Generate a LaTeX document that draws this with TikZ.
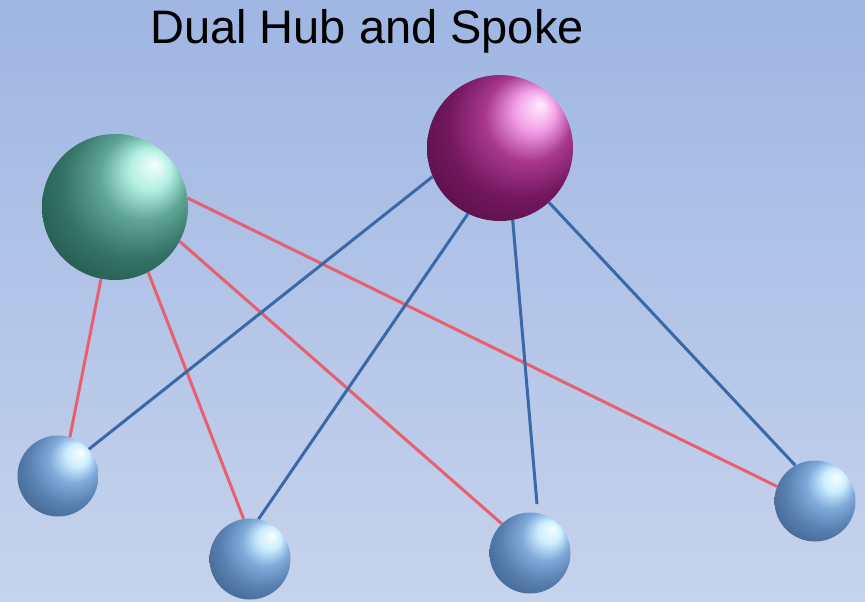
\documentclass[tikz,border=0pt]{standalone}
\usepackage{fontspec}
\setmainfont{Liberation Sans}
\usetikzlibrary{backgrounds}

% palette
\definecolor{bgtop}{HTML}{9FB6E3}
\definecolor{bgbottom}{HTML}{C6D3EC}
\definecolor{redspoke}{HTML}{E8606E}
\definecolor{bluespoke}{HTML}{3A68A8}

\definecolor{tealA}{HTML}{F4FFFD}
\definecolor{tealB}{HTML}{B4F0E2}
\definecolor{tealC}{HTML}{5FA596}
\definecolor{tealD}{HTML}{347366}
\definecolor{tealE}{HTML}{214F47}
\definecolor{tealF}{HTML}{122C28}

\definecolor{magA}{HTML}{FFF0FF}
\definecolor{magB}{HTML}{F2A0E6}
\definecolor{magC}{HTML}{A8388C}
\definecolor{magD}{HTML}{72175E}
\definecolor{magE}{HTML}{500E40}
\definecolor{magF}{HTML}{280620}

\definecolor{bluA}{HTML}{F8FFFF}
\definecolor{bluB}{HTML}{CCEEFF}
\definecolor{bluC}{HTML}{80AADA}
\definecolor{bluD}{HTML}{5880B0}
\definecolor{bluE}{HTML}{3C5D86}
\definecolor{bluF}{HTML}{1E324A}

% spheres lit from the upper right (last stop at 50bp = sphere radius)
\pgfdeclareradialshading{tealball}{\pgfpoint{14bp}{15bp}}{%
  color(0bp)=(tealA); color(7bp)=(tealB); color(15bp)=(tealC);
  color(25bp)=(tealD); color(38bp)=(tealE); color(50bp)=(tealF)}
\pgfdeclareradialshading{magball}{\pgfpoint{14bp}{15bp}}{%
  color(0bp)=(magA); color(7bp)=(magB); color(15bp)=(magC);
  color(25bp)=(magD); color(38bp)=(magE); color(50bp)=(magF)}
\pgfdeclareradialshading{blueball}{\pgfpoint{14bp}{15bp}}{%
  color(0bp)=(bluA); color(7bp)=(bluB); color(15bp)=(bluC);
  color(25bp)=(bluD); color(38bp)=(bluE); color(50bp)=(bluF)}

\tikzset{
  hub/.style={circle, inner sep=0pt, minimum size=146pt},
  leaf/.style={circle, inner sep=0pt, minimum size=81pt, shading=blueball},
  redline/.style={draw=redspoke, line width=3pt},
  blueline/.style={draw=bluespoke, line width=3pt},
}

\begin{document}
\begin{tikzpicture}[x=1pt, y=-1pt]
  % backdrop
  \begin{scope}[on background layer]
    \shade[top color=bgtop, bottom color=bgbottom] (0,0) rectangle (865,602);
  \end{scope}
  \useasboundingbox (0,0) rectangle (865,602);

  \node[font=\fontsize{47}{54}\selectfont, anchor=base] (title) at (367,44) {Dual Hub and Spoke};

  % hubs
  \node[hub, shading=tealball] (teal) at (115,207) {};
  \node[hub, shading=magball] (mag) at (500,148) {};

  % spokes
  \node[leaf] (s1) at (58,476) {};
  \node[leaf] (s2) at (250,559) {};
  \node[leaf] (s3) at (530,553) {};
  \node[leaf] (s4) at (815,501) {};

  % links, kept behind the spheres
  \begin{scope}[on background layer]
    \draw[redline] (teal.-101) -- (s1.73);
    \draw[redline] (teal.-63) -- (s2.99);
    \draw[redline] (teal.-28) -- (s3.134);
    \draw[redline] (teal.7) -- (s4.159);
    \draw[blueline] (mag.-157) -- (s1.41);
    \draw[blueline] (mag.-116) -- (s2.78);
    \draw[blueline, shorten >=9pt] (mag.-80) -- (s3.79);
    \draw[blueline] (mag.-48) -- (s4.119);
  \end{scope}
\end{tikzpicture}
\end{document}
